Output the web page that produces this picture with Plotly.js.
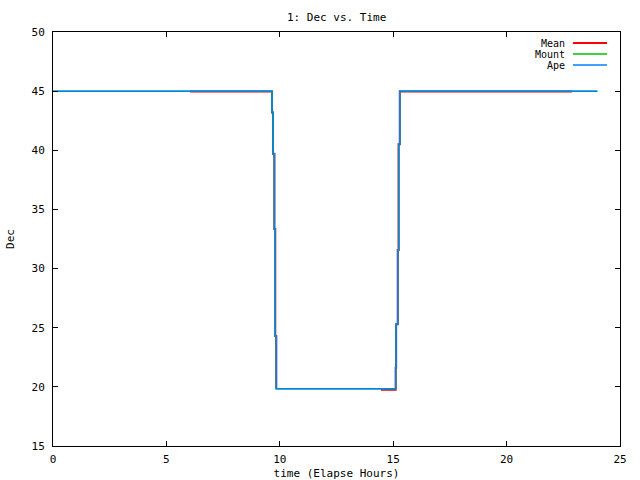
<!DOCTYPE html>
<html>
<head>
<meta charset="utf-8">
<script src="https://cdn.plot.ly/plotly-3.0.1.min.js"></script>
<style>html,body{margin:0;padding:0;background:#fff;}#chart{width:640px;height:480px;}</style>
</head>
<body>
<div id="chart"></div>
<script>
// Series names and colours
const seriesNames = ["Mean", "Mount", "Ape"];
const seriesColors = ["#ff0000", "#00c000", "#0080ff"];

// Mean (step line, with a gap)
const meanTime = [6.04, 9.656, 9.70, 9.76, 9.80, 9.845, null, 14.46, 15.11, 15.13, 15.20, 15.24, 15.29, 22.88];
const meanDec  = [44.96, 43.2, 39.7, 33.35, 24.3, 19.83, null, 19.75, 21.6, 25.3, 31.57, 40.5, 44.96, 44.96];

// Mount (hidden beneath Ape)
const mountTime = [0, 9.656, 9.70, 9.76, 9.80, 9.845, 15.11, 15.13, 15.20, 15.24, 15.29, 24.0];
const mountDec  = [45, 43.2, 39.7, 33.35, 24.3, 19.83, 21.6, 25.3, 31.57, 40.5, 45, 45];

// Ape
const apeTime = [0, 9.656, 9.70, 9.76, 9.80, 9.845, 15.11, 15.13, 15.20, 15.24, 15.29, 24.0];
const apeDec  = [45, 43.2, 39.7, 33.35, 24.3, 19.83, 21.6, 25.3, 31.57, 40.5, 45, 45];

const FONT = "DejaVu Sans Mono, monospace";

const traces = [
  {x: meanTime, y: meanDec, name: seriesNames[0], mode: "lines", line: {color: seriesColors[0], width: 2, shape: "hv"}, connectgaps: false},
  {x: mountTime, y: mountDec, name: seriesNames[1], mode: "lines", line: {color: seriesColors[1], width: 1.5, shape: "hv"}},
  {x: apeTime, y: apeDec, name: seriesNames[2], mode: "lines", line: {color: seriesColors[2], width: 1.5, shape: "hv"}}
];

// Legend built gnuplot-style: right-aligned text, sample line to the right
const annotations = [];
const shapes = [];
seriesNames.forEach((n, i) => {
  const yPx = 43 + i * 11; // pixel row
  const yPaper = 1 - (yPx - 32) / 414;
  annotations.push({xref: "paper", yref: "paper", x: (566 - 53) / 567, y: yPaper, text: n, showarrow: false,
    xanchor: "right", yanchor: "middle", borderpad: 0, font: {family: FONT, size: 10, color: "#000"}});
  shapes.push({type: "line", xref: "paper", yref: "paper", x0: (573 - 53) / 567, x1: (607 - 53) / 567, y0: yPaper, y1: yPaper,
    line: {color: seriesColors[i], width: i === 0 ? 2 : 1.5}});
});

const layout = {
  width: 640, height: 480,
  margin: {l: 53, r: 20, t: 32, b: 34, pad: 0},
  paper_bgcolor: "#fff", plot_bgcolor: "#fff",
  showlegend: false,
  font: {family: FONT, size: 11, color: "#000"},
  title: {text: "1: Dec vs. Time", x: 0.526, xanchor: "center", y: 0.965, yanchor: "middle", font: {family: FONT, size: 11, color: "#000"}},
  xaxis: {
    range: [0, 25], dtick: 5, tick0: 0, showgrid: false, zeroline: false,
    showline: true, linecolor: "#000", linewidth: 1, mirror: "ticks",
    ticks: "inside", ticklen: 5, tickcolor: "#000",
    ticklabelstandoff: 3,
    tickfont: {family: FONT, size: 11},
    title: {text: "time (Elapse Hours)", standoff: 7, font: {family: FONT, size: 11}}
  },
  yaxis: {
    range: [15, 50], dtick: 5, tick0: 15, showgrid: false, zeroline: false,
    showline: true, linecolor: "#000", linewidth: 1, mirror: "ticks",
    ticks: "inside", ticklen: 5, tickcolor: "#000",
    ticklabelstandoff: 5,
    tickfont: {family: FONT, size: 11},
    title: {text: "Dec", standoff: 14, font: {family: FONT, size: 11}}
  },
  annotations: annotations,
  shapes: shapes
};

Plotly.newPlot("chart", traces, layout, {displayModeBar: false, staticPlot: true});
</script>
</body>
</html>
